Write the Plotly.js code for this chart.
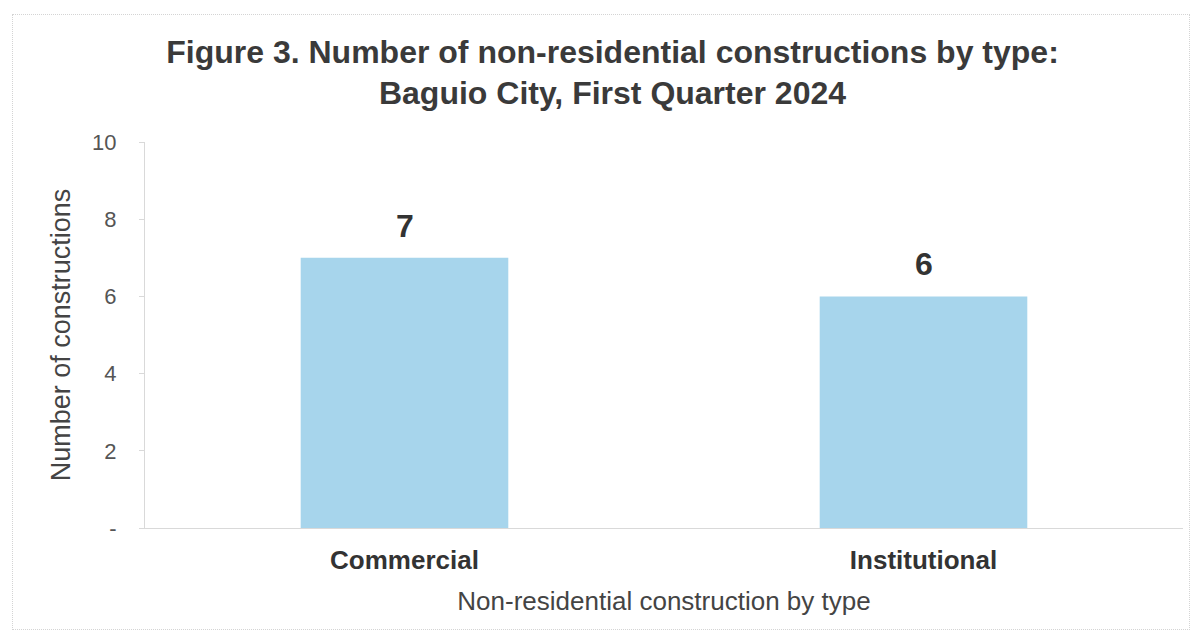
<!DOCTYPE html>
<html>
<head>
<meta charset="utf-8">
<script src="https://cdn.plot.ly/plotly-3.0.1.min.js"></script>
<style>
html,body{margin:0;padding:0;background:#fff;}
#wrap{position:relative;width:1201px;height:639px;}
#chart{width:1201px;height:639px;}
#frame{position:absolute;left:12px;top:14px;width:1176px;height:614px;border:1px dotted #d4d4d4;pointer-events:none;}
</style>
</head>
<body>
<div id="wrap"><div id="chart"></div><div id="frame"></div></div>
<script>
const categories = ["Commercial", "Institutional"];
const values = [7, 6];
const yTickVals = [0, 2, 4, 6, 8, 10];
const yTickText = ["-", "2", "4", "6", "8", "10"];

const FONT = "'Liberation Sans', Arial, sans-serif";

const trace = {
  type: "bar",
  x: categories,
  y: values,
  width: 0.4,
  marker: {color: "#a7d5ec"},
  hoverinfo: "none"
};

const labels = categories.map((c, i) => ({
  x: c, y: values[i], xref: "x", yref: "y",
  text: "<b>" + values[i] + "</b>",
  showarrow: false, yanchor: "bottom", yshift: 12,
  font: {family: FONT, size: 32, color: "#333333"}
}));

const layout = {
  width: 1201, height: 639,
  paper_bgcolor: "#ffffff", plot_bgcolor: "#ffffff",
  margin: {l: 145, r: 18, t: 142, b: 111},
  showlegend: false,
  font: {family: FONT},
  title: {
    text: "<b>Figure 3. Number of non-residential constructions by type:<br>Baguio City, First Quarter 2024</b>",
    font: {family: FONT, size: 32, color: "#3a3a3a"},
    x: 0.51, xanchor: "center", xref: "container",
    y: 0.902, yanchor: "top", yref: "container"
  },
  annotations: labels,
  xaxis: {
    type: "category",
    showline: true, linecolor: "#d9d9d9", linewidth: 1,
    ticks: "", showgrid: false, zeroline: false,
    ticklabelstandoff: 9,
    tickfont: {family: FONT, size: 26, color: "#333333", weight: "bold"},
    title: {text: "Non-residential construction by type", font: {family: FONT, size: 26, color: "#444444"}, standoff: 17}
  },
  yaxis: {
    range: [0, 10],
    tickvals: yTickVals, ticktext: yTickText,
    showline: true, linecolor: "#d9d9d9", linewidth: 1,
    ticks: "outside", ticklen: 5, tickcolor: "#d9d9d9",
    ticklabelstandoff: 18,
    showgrid: false, zeroline: false,
    tickfont: {family: FONT, size: 22, color: "#555555"},
    title: {text: "Number of constructions", font: {family: FONT, size: 27, color: "#444444"}, standoff: 13}
  },
  bargap: 0.6
};

Plotly.newPlot("chart", [trace], layout, {displayModeBar: false, staticPlot: true});
</script>
</body>
</html>
